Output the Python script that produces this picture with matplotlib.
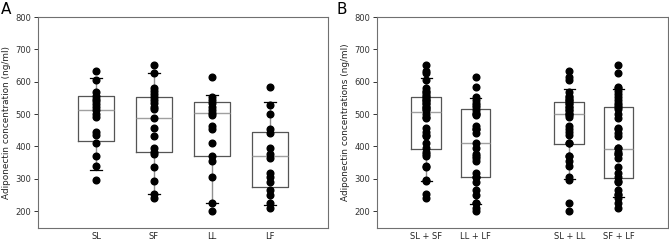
import numpy as np
import matplotlib
matplotlib.use("Agg")
import matplotlib.pyplot as plt

# ------------------- Data -------------------

SL = [633, 604, 567, 557, 547, 541, 530, 523, 513, 500, 491, 446, 436, 412, 371, 341, 296]
SF = [651, 628, 580, 572, 561, 552, 544, 533, 523, 516, 487, 458, 433, 395, 384, 378, 337, 293, 254, 240]
LL = [616, 554, 544, 533, 523, 513, 503, 497, 463, 453, 410, 372, 355, 307, 225, 201]
LF = [584, 527, 501, 453, 443, 396, 377, 364, 317, 305, 291, 266, 250, 225, 210]

groups_a = ["SL", "SF", "LL", "LF"]
points_a = [SL, SF, LL, LF]
# box stats: q1, median, q3, lower whisker, upper whisker
q1_a = [416, 382, 369, 276]
med_a = [513, 487, 503, 371]
q3_a = [555, 554, 536, 446]
lo_a = [327, 254, 226, 218]
hi_a = [613, 628, 558, 538]

groups_b = ["SL + SF", "LL + LF", "SL + LL", "SF + LF"]
points_b = [SL + SF, LL + LF, SL + LL, SF + LF]
q1_b = [391, 307, 407, 304]
med_b = [505, 410, 500, 391]
q3_b = [554, 517, 536, 523]
lo_b = [294, 223, 300, 245]
hi_b = [612, 549, 579, 579]

pos_a = [1, 2, 3, 4]
pos_b = [1, 2, 3.9, 4.9]

# ------------------- Plotting -------------------

fig = plt.figure(figsize=(6.69, 2.4), dpi=100)
ax_a = fig.add_axes([0.057, 0.05, 0.433, 0.879])
ax_b = fig.add_axes([0.5635, 0.05, 0.4345, 0.879])


def draw_panel(ax, names, pts, q1, med, q3, lo, hi, pos, xmax, ylabel, width):
    stats = []
    for i in range(len(names)):
        stats.append({"q1": q1[i], "med": med[i], "q3": q3[i],
                      "whislo": lo[i], "whishi": hi[i], "fliers": []})
    ax.bxp(stats, positions=pos, widths=width, showfliers=False,
           boxprops=dict(color="#555555", linewidth=0.9),
           medianprops=dict(color="#a0a0a0", linewidth=1.0),
           whiskerprops=dict(color="#909090", linewidth=1.0),
           capprops=dict(color="black", linewidth=0.9),
           capwidths=0.22)
    for p, vals in zip(pos, pts):
        ax.plot(np.full(len(vals), p), vals, "o", color="black",
                markersize=4.8, zorder=3)
    ax.set_xlim(0, xmax)
    ax.set_ylim(148, 800)
    ax.set_yticks(range(200, 801, 100))
    ax.set_xticks(pos)
    ax.set_xticklabels(names)
    ax.tick_params(axis="x", length=0, labelsize=6, pad=3, colors="#222222")
    ax.tick_params(axis="y", length=3, width=0.7, labelsize=6, pad=2,
                   colors="#333333", direction="out")
    for s in ax.spines.values():
        s.set_color("#707070")
        s.set_linewidth(0.8)
    ax.set_ylabel(ylabel, fontsize=6.4, color="#222222", labelpad=3)


draw_panel(ax_a, groups_a, points_a, q1_a, med_a, q3_a, lo_a, hi_a,
           pos_a, 5, "Adiponectin concentration (ng/ml)", 0.62)
draw_panel(ax_b, groups_b, points_b, q1_b, med_b, q3_b, lo_b, hi_b,
           pos_b, 5.9, "Adiponectin concentrations (ng/ml)", 0.6)

fig.text(0.002, 0.99, "A", fontsize=11, va="top", ha="left")
fig.text(0.503, 0.99, "B", fontsize=11, va="top", ha="left")

fig.savefig("out.png", dpi=100)
